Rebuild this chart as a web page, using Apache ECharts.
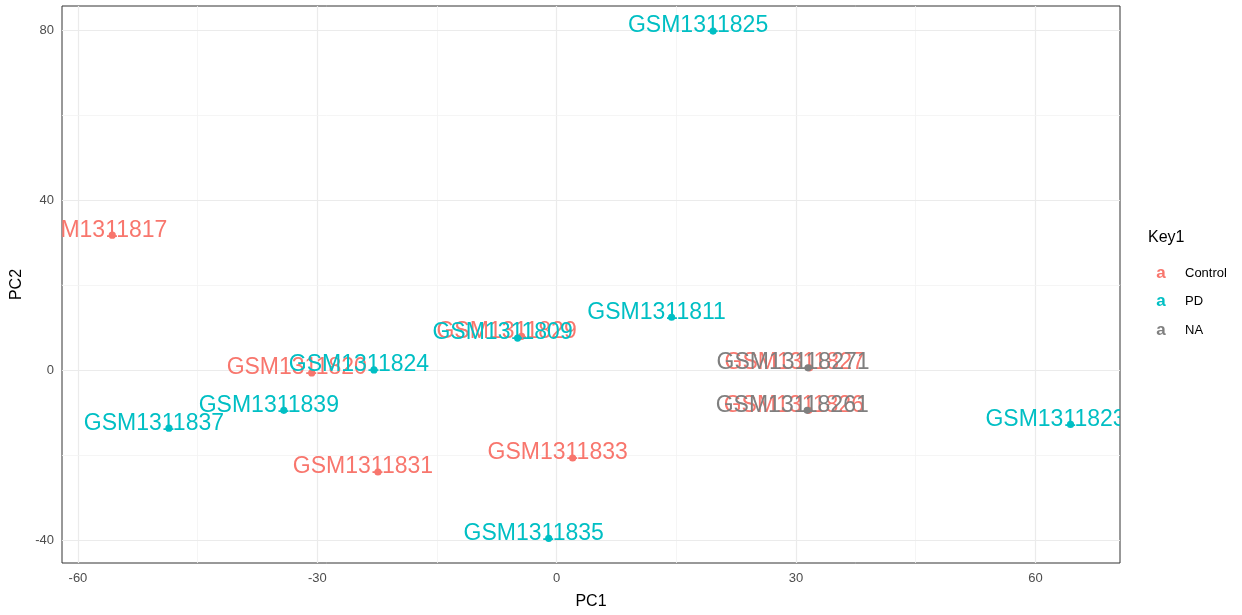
<!DOCTYPE html>
<html>
<head>
<meta charset="utf-8">
<script src="https://cdn.jsdelivr.net/npm/echarts@6/dist/echarts.min.js"></script>
<style>
html,body{margin:0;padding:0;background:#fff;}
#chart{width:1242px;height:615px;}
</style>
</head>
<body>
<div id="chart"></div>
<script>
// ---- data ----
const sampleNames = ["GSM1311817","GSM1311820","GSM1311829","GSM1311831","GSM1311833","GSM1311827","GSM1311826",
                     "GSM1311825","GSM1311811","GSM1311809","GSM1311824","GSM1311839","GSM1311837","GSM1311835","GSM1311823",
                     "GSM13118271","GSM13118261"];
const pc1Values = [-55.7,-30.7,-4.4,-22.4,2.0,31.7,31.6,
                   19.6,14.4,-4.9,-22.9,-34.2,-48.6,-1.0,64.4,
                   31.5,31.4];
const pc2Values = [31.8,-0.6,8.0,-23.9,-20.6,0.6,-9.4,
                   79.8,12.5,7.6,0.1,-9.4,-13.6,-39.5,-12.7,
                   0.6,-9.4];
const groupOf = ["Control","Control","Control","Control","Control","Control","Control",
                 "PD","PD","PD","PD","PD","PD","PD","PD",
                 "NA","NA"];
const groupNames = ["Control","PD","NA"];
const groupColors = ["#F8766D","#00BFC4","#7F7F7F"];
const xTicks = [-60,-30,0,30,60];
const yTicks = [-40,0,40,80];
const xMinor = [-45,-15,15,45];
const yMinor = [-20,20,60];
const legendTitle = "Key1";

// ---- chart ----
const chart = echarts.init(document.getElementById('chart'), null, {renderer:'canvas'});
const FONT = '"Liberation Sans", Arial, sans-serif';

const gridLines = [];
xTicks.forEach(v => gridLines.push({xAxis:v, lineStyle:{color:'#EBEBEB', width:1.2, type:'solid'}}));
xMinor.forEach(v => gridLines.push({xAxis:v, lineStyle:{color:'#F2F2F2', width:0.8, type:'solid'}}));
yTicks.forEach(v => gridLines.push({yAxis:v, lineStyle:{color:'#EBEBEB', width:1.2, type:'solid'}}));
yMinor.forEach(v => gridLines.push({yAxis:v, lineStyle:{color:'#F2F2F2', width:0.8, type:'solid'}}));

const series = [{
  type:'scatter', data:[], z:1, silent:true,
  markLine:{silent:true, symbol:['none','none'], label:{show:false}, animation:false, data:gridLines}
}];

groupNames.forEach((g, gi) => {
  const data = [];
  sampleNames.forEach((n, i) => { if (groupOf[i] === g) data.push([pc1Values[i], pc2Values[i], n]); });
  const color = groupColors[gi];
  series.push({
    type:'custom', name:g, z:5+gi, animation:false,
    data:data,
    renderItem:function(params, api){
      const p = api.coord([api.value(0), api.value(1)]);
      const cs = params.coordSys;
      const tx = p[0]-15, ty = p[1]-5;
      const clip = {type:'rect', shape:{x:cs.x - tx, y:cs.y - ty, width:cs.width, height:cs.height}};
      return {type:'group', children:[
        {type:'text', x:tx, y:ty, clipPath:clip,
         style:{text:data[params.dataIndex][2], fill:color, font:'23px ' + FONT, align:'center', verticalAlign:'middle'}},
        {type:'circle', shape:{cx:p[0], cy:p[1], r:3.6}, style:{fill:color}}
      ]};
    }
  });
});

const graphics = [{type:'text', left:1148, top:230, style:{text:legendTitle, fill:'#000', font:'16px ' + FONT}}];
groupNames.forEach((g, gi) => {
  const y = 273 + gi*28.5;
  graphics.push({type:'text', x:1161, y:y, style:{text:'a', fill:groupColors[gi], font:'bold 17px ' + FONT, align:'center', verticalAlign:'middle'}});
  graphics.push({type:'text', x:1185, y:y, style:{text:g, fill:'#000', font:'13px ' + FONT, align:'left', verticalAlign:'middle'}});
});

chart.setOption({
  animation:false,
  backgroundColor:'#fff',
  grid:{left:62, top:6, width:1058, height:564, show:true, borderColor:'#333', borderWidth:1, backgroundColor:'transparent', containLabel:false},
  xAxis:{type:'value', min:-62, max:70.6,
    name:'PC1', nameLocation:'middle', nameGap:31, nameTextStyle:{color:'#000', fontSize:16, fontFamily:FONT},
    axisLine:{show:false}, splitLine:{show:false},
    axisTick:{show:true, length:4, lineStyle:{color:'#333'}, customValues:xTicks},
    axisLabel:{color:'#4D4D4D', fontSize:13, fontFamily:FONT, margin:9, customValues:xTicks}},
  yAxis:{type:'value', min:-45.3, max:85.7,
    name:'PC2', nameLocation:'middle', nameGap:33, nameRotate:90, nameTextStyle:{color:'#000', fontSize:16, fontFamily:FONT},
    axisLine:{show:false}, splitLine:{show:false},
    axisTick:{show:true, length:4, lineStyle:{color:'#333'}, customValues:yTicks},
    axisLabel:{color:'#4D4D4D', fontSize:13, fontFamily:FONT, margin:8, customValues:yTicks}},
  graphic:graphics,
  series:series
});
</script>
</body>
</html>
